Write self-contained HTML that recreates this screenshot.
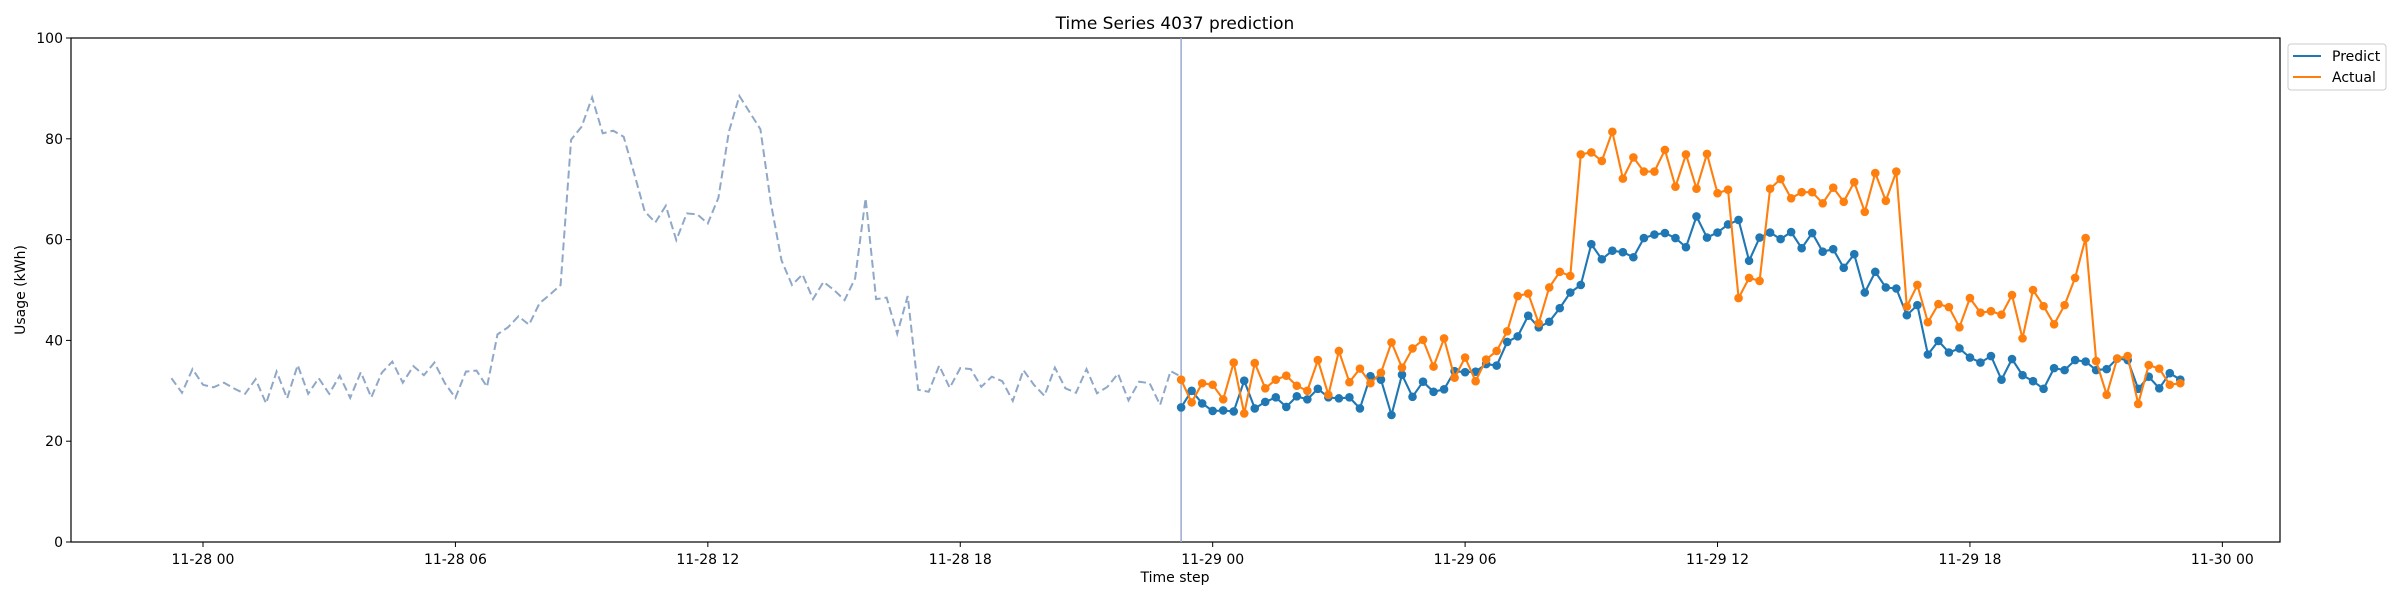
<!DOCTYPE html>
<html><head><meta charset="utf-8"><style>
html,body{margin:0;padding:0;background:#fff;}
svg{display:block;font-family:"DejaVu Sans","Liberation Sans",sans-serif;}
</style></head><body>
<svg id="chart" width="2400" height="600" viewBox="0 0 2400 600">
<rect x="0" y="0" width="2400" height="600" fill="#fff"/>
<text x="1175" y="29" font-size="17" text-anchor="middle" fill="#000">Time Series 4037 prediction</text>
<g id="plot"></g>
<text x="1175" y="582" font-size="14" text-anchor="middle" fill="#000">Time step</text>
<text x="25" y="290" font-size="14" text-anchor="middle" fill="#000" transform="rotate(-90 25 290)">Usage (kWh)</text>
<g>
<rect x="2288" y="44" width="98" height="46" rx="3" fill="#fff" stroke="#ccc" stroke-width="1"/>
<line x1="2293" y1="56" x2="2321" y2="56" stroke="#1f77b4" stroke-width="2.1"/>
<text x="2332" y="61" font-size="14" fill="#000">Predict</text>
<line x1="2293" y1="77" x2="2321" y2="77" stroke="#ff7f0e" stroke-width="2.1"/>
<text x="2332" y="82" font-size="14" fill="#000">Actual</text>
</g>
</svg>
<script>
const historyValues = [32.5,29.6,34.3,31.2,30.7,31.6,30.4,29.4,32.3,27.5,33.8,28.5,35.1,29.4,32.5,29.4,33.0,28.6,33.7,28.7,33.6,35.8,31.6,34.9,33.1,35.6,31.5,28.6,33.8,34.0,30.8,41.2,42.6,44.8,43.1,47.4,49.1,51.0,79.8,82.4,88.2,81.1,81.6,80.4,73.1,65.6,63.4,66.7,59.9,
65.2,65.0,63.2,68.3,81.4,88.5,85.2,81.9,67.2,55.9,51.0,53.1,48.2,51.6,50.0,48.0,52.3,68.2,48.2,48.5,41.3,48.8,30.2,29.8,35.0,30.6,34.5,34.3,30.8,32.8,31.9,28.0,34.1,31.2,29.0,34.6,30.5,29.6,34.3,29.5,30.8,33.4,28.1,31.8,31.5,27.2,33.9,32.8];
const predictValues = [26.7,30.0,27.5,26.0,26.1,25.9,32.0,26.5,27.8,28.7,26.8,28.9,28.3,30.4,28.7,28.5,28.7,26.5,32.9,32.2,25.2,33.2,28.8,31.8,29.8,30.3,33.9,33.7,33.8,35.3,35.0,39.7,40.8,44.9,42.6,43.7,46.4,49.5,51.0,59.1,56.1,57.8,57.5,56.5,60.3,61.0,61.3,60.3,58.5,
64.6,60.4,61.4,63.0,63.9,55.8,60.4,61.4,60.1,61.5,58.3,61.3,57.6,58.1,54.4,57.1,49.5,53.6,50.5,50.3,45.0,47.0,37.2,39.9,37.6,38.4,36.6,35.6,36.9,32.2,36.3,33.1,31.9,30.4,34.5,34.1,36.1,35.8,34.1,34.3,36.4,36.1,30.4,32.8,30.5,33.5,32.2];
const actualValues = [32.2,27.7,31.5,31.2,28.3,35.6,25.5,35.5,30.5,32.2,33.0,31.0,30.0,36.1,29.2,37.9,31.7,34.4,31.5,33.6,39.6,34.6,38.4,40.1,34.8,40.4,32.6,36.6,31.9,36.2,37.9,41.8,48.8,49.3,43.4,50.5,53.6,52.8,76.9,77.3,75.6,81.4,72.1,76.3,73.5,73.5,77.8,70.5,76.9,
70.1,77.0,69.2,69.9,48.4,52.4,51.8,70.1,72.0,68.2,69.4,69.4,67.2,70.3,67.5,71.4,65.5,73.2,67.7,73.5,46.7,51.0,43.6,47.2,46.6,42.6,48.4,45.5,45.8,45.1,49.0,40.4,50.0,46.8,43.2,47.0,52.4,60.3,35.9,29.2,36.4,36.9,27.4,35.1,34.4,31.2,31.5];
const historyStartHour = -0.75;   // hours relative to 11-28 00:00
const forecastStartHour = 23.25;
const stepHours = 0.25;
const yTicks = [0,20,40,60,80,100];
const xTickLabels = ["11-28 00","11-28 06","11-28 12","11-28 18","11-29 00","11-29 06","11-29 12","11-29 18","11-30 00"];
const xTickHours = [0,6,12,18,24,30,36,42,48];

const L=71,R=2280,T=38,B=542;
const xScale = h => 203 + 42.07*h;
const yScale = v => B - (v/100)*(B-T);
const NS="http://www.w3.org/2000/svg";
const svg=document.getElementById('chart');
const plot=document.getElementById('plot');
function mk(tag,attrs,parent){const e=document.createElementNS(NS,tag);for(const k in attrs)e.setAttribute(k,attrs[k]);(parent||plot).appendChild(e);return e;}

// axes frame
const frame=mk('rect',{x:L,y:T,width:R-L,height:B-T,fill:'none',stroke:'#000','stroke-width':1.2});



yTicks.forEach(v=>{
  const y=yScale(v);
  const t=mk('line',{x1:L-5,y1:y,x2:L,y2:y,stroke:'#000','stroke-width':1});
  
  
  const lb=mk('text',{x:L-8,y:y+5,'font-size':14,'text-anchor':'end',fill:'#000'});
  lb.textContent=v;
  
  
});
xTickHours.forEach((h,i)=>{
  const x=xScale(h);
  const t=mk('line',{x1:x,y1:B,x2:x,y2:B+5,stroke:'#000','stroke-width':1});
  
  
  const lb=mk('text',{x:x,y:B+22,'font-size':14,'text-anchor':'middle',fill:'#000'});
  lb.textContent=xTickLabels[i];
  
  
});

// history dashed
const hp=historyValues.map((v,i)=>xScale(historyStartHour+i*stepHours).toFixed(1)+','+yScale(v).toFixed(1)).join(' ');
const hl=mk('polyline',{points:hp,fill:'none',stroke:'#8fa8c8','stroke-width':2,'stroke-dasharray':'8,4'});



// forecast start line
const vx=xScale(forecastStartHour);
const vl=mk('line',{x1:vx,y1:T,x2:vx,y2:B,stroke:'#9aa8d0','stroke-width':1.5});



function series(vals,color,name){
  const pts=vals.map((v,i)=>[xScale(forecastStartHour+i*stepHours),yScale(v)]);
  const pl=mk('polyline',{points:pts.map(p=>p[0].toFixed(1)+','+p[1].toFixed(1)).join(' '),fill:'none',stroke:color,'stroke-width':2.1});
  
  
  pts.forEach(p=>{
    const c=mk('circle',{cx:p[0],cy:p[1],r:4.3,fill:color});
    
    
  });
}
series(predictValues,'#1f77b4','predict');
series(actualValues,'#ff7f0e','actual');
</script>
</body></html>
